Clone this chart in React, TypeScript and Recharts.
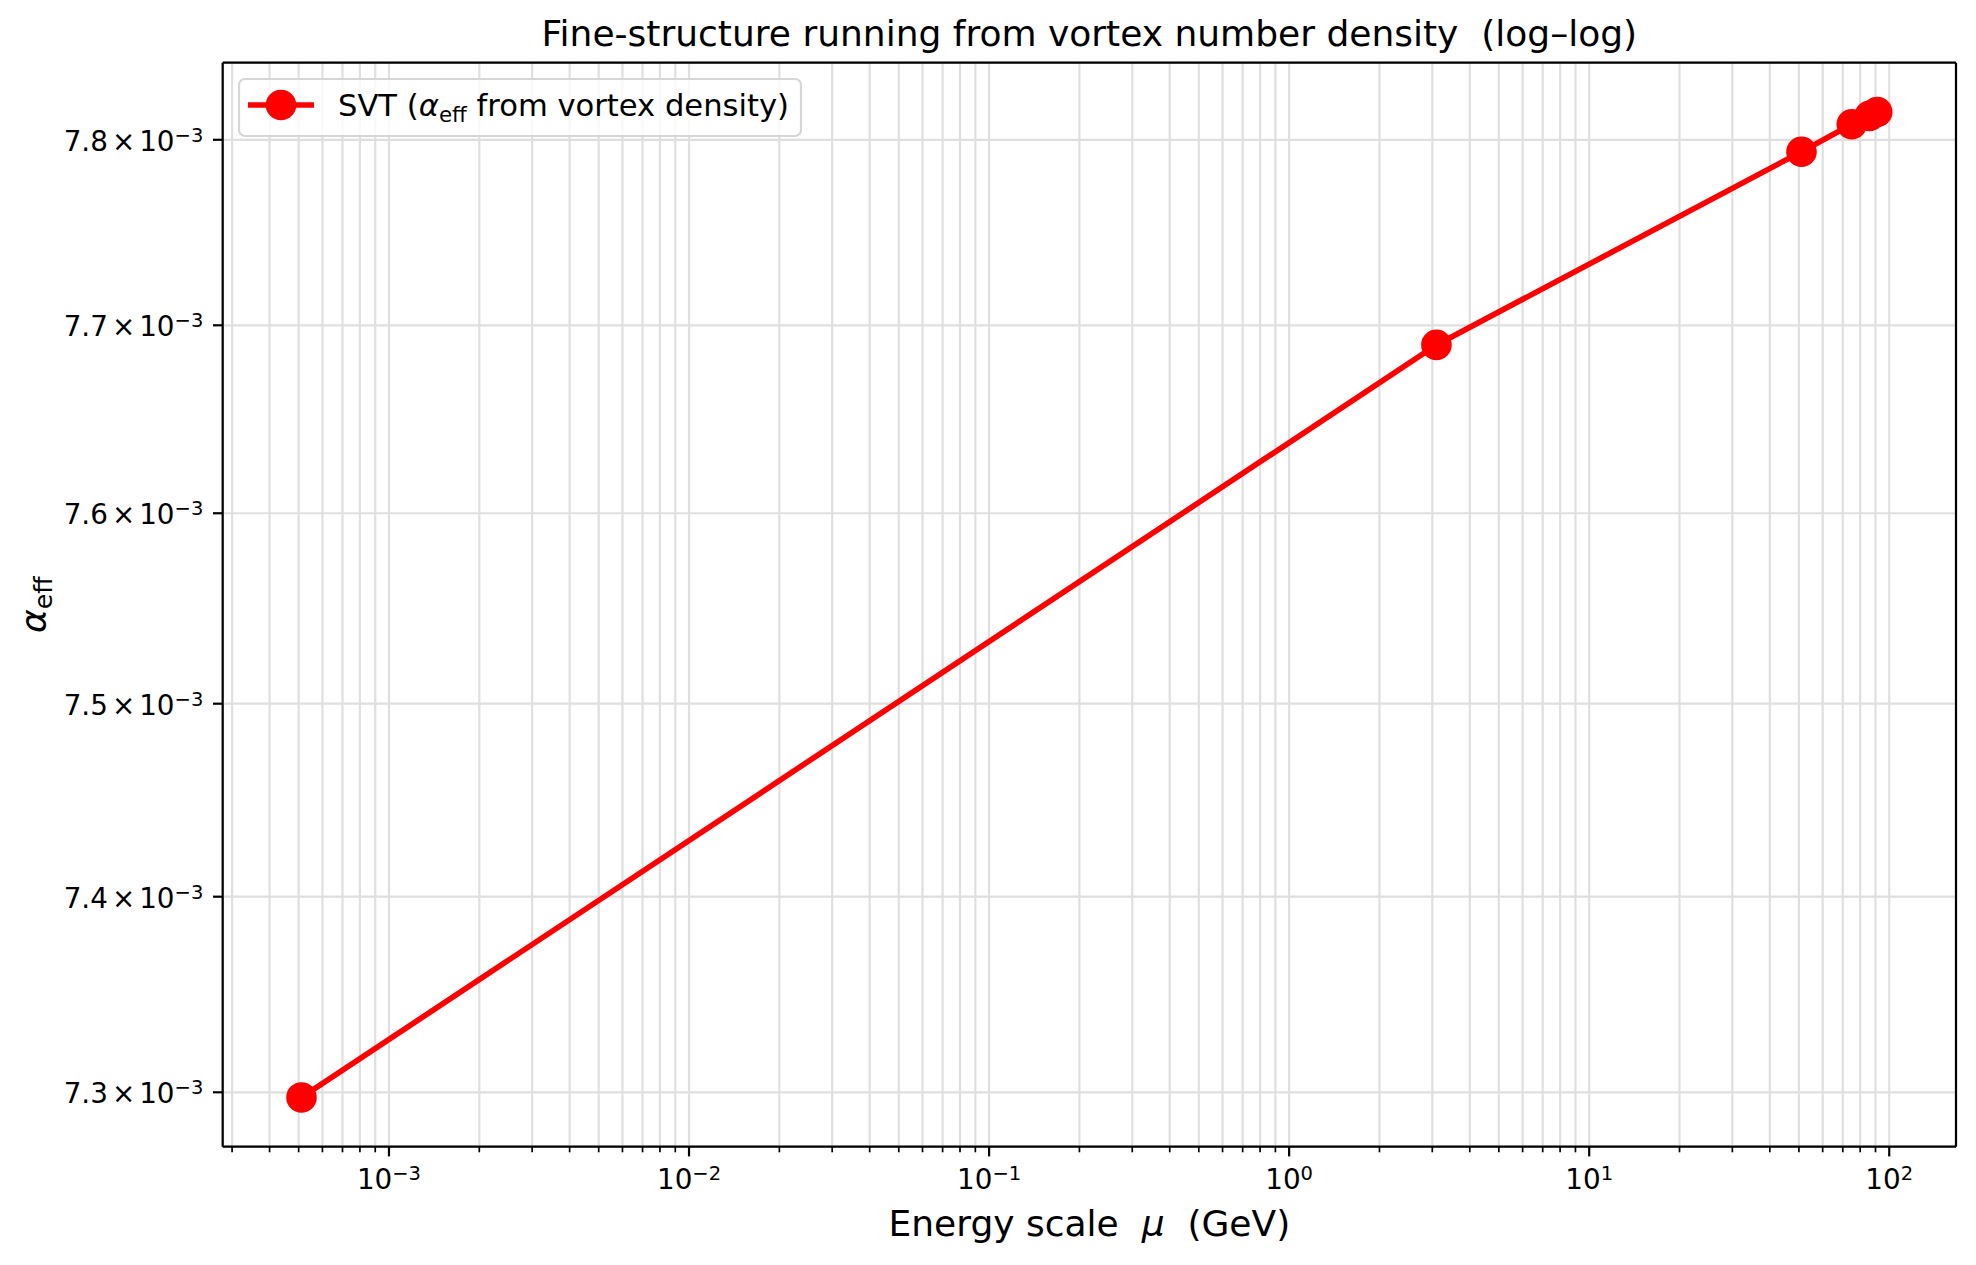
import {
  CartesianGrid,
  Legend,
  Line,
  LineChart,
  ReferenceLine,
  XAxis,
  YAxis,
} from "recharts";

// energy scale (GeV) and the effective coupling read at each point
const energyGeV = [0.000511, 3.097, 51, 75, 86, 91.1876];
const alphaEff = [0.0072974, 0.0076895, 0.0077935, 0.0078084, 0.007813, 0.0078151];

// axis ticks
const xMajorTicks = [1e-3, 1e-2, 1e-1, 1, 10, 100];
const xMajorExponents = ["−3", "−2", "−1", "0", "1", "2"];
const yTicks = [0.0073, 0.0074, 0.0075, 0.0076, 0.0077, 0.0078];
const yTickMantissas = ["7.3", "7.4", "7.5", "7.6", "7.7", "7.8"];

const chartTitle = "Fine-structure running from vortex number density  (log–log)";
const seriesName = "SVT";

const W = 1976;
const H = 1265;
const PLOT_LEFT = 222.7;
const PLOT_TOP = 62.7;
const PLOT_RIGHT = 1956;
const PLOT_BOTTOM = 1146.7;
const FONT = '"DejaVu Sans", sans-serif';
const RED = "#ff0000";

const data = energyGeV.map((mu, i) => ({ mu, alpha: alphaEff[i] }));

// matplotlib style 5% margin in log space
const logPad = (vals: number[]) => {
  const lo = Math.log10(Math.min(...vals));
  const hi = Math.log10(Math.max(...vals));
  const pad = (hi - lo) * 0.05;
  return [10 ** (lo - pad), 10 ** (hi + pad)];
};
const xDomain = logPad(energyGeV);
const yDomain = logPad(alphaEff);

const xMinorTicks = [1e-4, 1e-3, 1e-2, 1e-1, 1, 10, 100]
  .flatMap((d) => [2, 3, 4, 5, 6, 7, 8, 9].map((m) => +(m * d).toPrecision(3)))
  .filter((v) => v > xDomain[0] && v < xDomain[1]);
const xAllTicks = [...xMajorTicks, ...xMinorTicks].sort((a, b) => a - b);

function XTick({ x, y, payload }: any) {
  const i = xMajorTicks.indexOf(payload.value);
  const major = i >= 0;
  return (
    <g>
      <line
        x1={x}
        x2={x}
        y1={y}
        y2={y + (major ? 9.7 : 5.6)}
        stroke="#000"
        strokeWidth={major ? 2.2 : 1.7}
      />
      {major && (
        <text
          x={x}
          y={y + 42.6}
          textAnchor="middle"
          fontFamily={FONT}
          fontSize={27.8}
          fill="#000"
        >
          10
          <tspan fontSize={19.5} dy={-9.3}>
            {xMajorExponents[i]}
          </tspan>
        </text>
      )}
    </g>
  );
}

function YTick({ x, y, payload }: any) {
  const i = yTicks.indexOf(payload.value);
  return (
    <g>
      <line x1={x - 9.7} x2={x} y1={y} y2={y} stroke="#000" strokeWidth={2.2} />
      <text
        x={x - 19.4}
        y={y + 11}
        textAnchor="end"
        fontFamily={FONT}
        fontSize={27.8}
        fill="#000"
      >
        {yTickMantissas[i]}
        <tspan dx={4}>×</tspan>
        <tspan dx={4}>10</tspan>
        <tspan fontSize={19.5} dy={-9}>
          −3
        </tspan>
      </text>
    </g>
  );
}

// x axis title plus the chart title above the plot
function XLabel() {
  const cx = (PLOT_LEFT + PLOT_RIGHT) / 2;
  return (
    <g>
      <text
        x={cx}
        y={1236}
        textAnchor="middle"
        fontFamily={FONT}
        fontSize={36}
        fill="#000"
        style={{ whiteSpace: "pre" }}
      >
        {"Energy scale  "}
        <tspan fontStyle="italic">μ</tspan>
        {"  (GeV)"}
      </text>
      <text
        x={cx}
        y={46}
        textAnchor="middle"
        fontFamily={FONT}
        fontSize={36}
        fill="#000"
        style={{ whiteSpace: "pre" }}
      >
        {chartTitle}
      </text>
    </g>
  );
}

function YLabel() {
  const cy = (PLOT_TOP + PLOT_BOTTOM) / 2;
  return (
    <text
      x={46}
      y={cy}
      transform={`rotate(-90 46 ${cy})`}
      textAnchor="middle"
      fontFamily={FONT}
      fontSize={36}
      fill="#000"
    >
      <tspan fontStyle="italic">α</tspan>
      <tspan fontSize={25.2} dy={6}>
        eff
      </tspan>
    </text>
  );
}

function LegendBox() {
  return (
    <svg width={564} height={60} style={{ display: "block" }}>
      <rect
        x={1}
        y={1}
        width={562}
        height={57}
        rx={6}
        fill="#fff"
        fillOpacity={0.8}
        stroke="#d6d6d6"
        strokeWidth={2.2}
      />
      <line x1={10} x2={76} y1={27} y2={27} stroke={RED} strokeWidth={5.6} />
      <circle cx={43} cy={27} r={13.9} fill={RED} stroke={RED} strokeWidth={2.8} />
      <text
        x={100}
        y={38}
        fontFamily={FONT}
        fontSize={30.6}
        fill="#000"
        style={{ whiteSpace: "pre" }}
      >
        {seriesName + " ("}
        <tspan fontStyle="italic">α</tspan>
        <tspan fontSize={21.4} dy={6}>
          eff
        </tspan>
        <tspan dy={-6}>{" from vortex density)"}</tspan>
      </text>
    </svg>
  );
}

export default function App() {
  return (
    <div style={{ position: "absolute", left: 0, top: 0, width: W, height: H, background: "#fff" }}>
      <LineChart
        width={W}
        height={H}
        data={data}
        margin={{ top: PLOT_TOP, right: W - PLOT_RIGHT, bottom: 0, left: 0 }}
      >
        <CartesianGrid stroke="#dfdfdf" strokeWidth={2.2} />
        <XAxis
          dataKey="mu"
          type="number"
          scale="log"
          domain={xDomain}
          allowDataOverflow
          ticks={xAllTicks}
          interval={0}
          tick={<XTick />}
          tickLine={false}
          tickSize={0}
          tickMargin={0}
          height={H - PLOT_BOTTOM}
          axisLine={{ stroke: "#000", strokeWidth: 2.2 }}
          label={<XLabel />}
        />
        <YAxis
          type="number"
          scale="log"
          domain={yDomain}
          allowDataOverflow
          ticks={yTicks}
          interval={0}
          tick={<YTick />}
          tickLine={false}
          tickSize={0}
          tickMargin={0}
          width={PLOT_LEFT}
          axisLine={{ stroke: "#000", strokeWidth: 2.2 }}
          label={<YLabel />}
        />
        {/* top and right spines */}
        <ReferenceLine y={yDomain[1]} stroke="#000" strokeWidth={2.2} ifOverflow="extendDomain" />
        <ReferenceLine x={xDomain[1]} stroke="#000" strokeWidth={2.2} ifOverflow="extendDomain" />
        <Legend
          layout="horizontal"
          align="center"
          verticalAlign="middle"
          content={() => <LegendBox />}
          wrapperStyle={{ left: 238, top: 78, width: 564, height: 60 }}
        />
        <Line
          dataKey="alpha"
          name={seriesName}
          stroke={RED}
          strokeWidth={5.6}
          dot={{ r: 13.9, fill: RED, stroke: RED, strokeWidth: 2.8 }}
          activeDot={false}
          isAnimationActive={false}
        />
      </LineChart>
    </div>
  );
}
